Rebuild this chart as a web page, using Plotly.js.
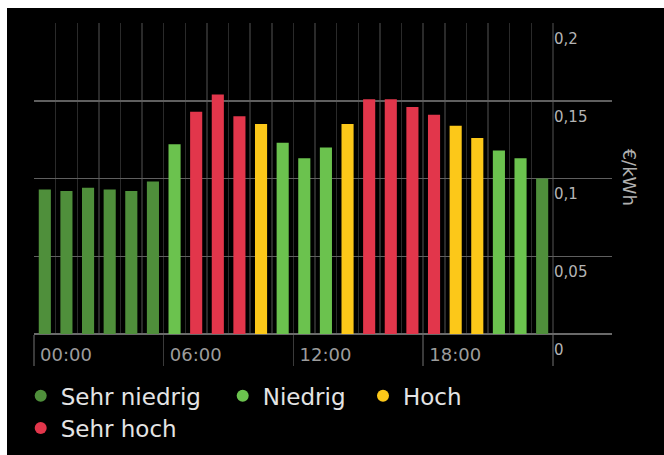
<!DOCTYPE html>
<html>
<head>
<meta charset="utf-8">
<script src="https://cdn.plot.ly/plotly-3.0.1.min.js"></script>
<style>
  html, body { margin: 0; padding: 0; background: #ffffff; width: 664px; height: 455px; overflow: hidden; }
  #chart { position: absolute; left: 7px; top: 8px; width: 657px; height: 447px; background: #000; }
</style>
</head>
<body>
<div id="chart"></div>
<script>
// ---- data ----
const hours = [0,1,2,3,4,5,6,7,8,9,10,11,12,13,14,15,16,17,18,19,20,21,22,23];
const prices = [0.093, 0.092, 0.094, 0.093, 0.092, 0.098, 0.122, 0.143, 0.154, 0.140, 0.135, 0.123,
                0.113, 0.120, 0.135, 0.151, 0.151, 0.146, 0.141, 0.134, 0.126, 0.118, 0.113, 0.100];
const levels = ["Sehr niedrig","Sehr niedrig","Sehr niedrig","Sehr niedrig","Sehr niedrig","Sehr niedrig",
                "Niedrig","Sehr hoch","Sehr hoch","Sehr hoch","Hoch","Niedrig",
                "Niedrig","Niedrig","Hoch","Sehr hoch","Sehr hoch","Sehr hoch",
                "Sehr hoch","Hoch","Hoch","Niedrig","Niedrig","Sehr niedrig"];
const levelNames = ["Sehr niedrig","Niedrig","Hoch","Sehr hoch"];
const levelColors = ["#4f8f3b","#6bc24e","#fcc819","#e2364b"];
const labelHours = [0, 6, 12, 18, 24];
const xTickLabels = ["00:00","06:00","12:00","18:00",""];
const yTicks = [0, 0.05, 0.1, 0.15, 0.2];
const unitTitle = "€/kWh";

// ---- derived ----
const colorOf = {};
levelNames.forEach((n,i)=>colorOf[n]=levelColors[i]);
const barColors = levels.map(l=>colorOf[l]);
const boundaries = hours.map(h=>h-0.5).concat([hours[hours.length-1]+0.5]);
const xRange = [-0.5, 26.23];
const FONT = "DejaVu Sans";

const traces = [{
  type: "bar", x: hours, y: prices,
  marker: { color: barColors, line: { width: 0 } },
  showlegend: false, hoverinfo: "skip"
}];
const legendAxes = [["x2","y"],["x3","y"],["x","y2"],["x","y"]];
levelNames.forEach((n,i)=>{
  traces.push({
    type: "scatter", mode: "markers", x: [null], y: [null], name: n,
    xaxis: legendAxes[i][0], yaxis: legendAxes[i][1],
    marker: { color: levelColors[i], size: 12, symbol: "circle" },
    legend: i === 0 ? "legend" : "legend" + (i+1),
    hoverinfo: "skip"
  });
});

const W = 657, H = 447;
const legendPos = [[13.7, 387.7],[215.7, 387.7],[356, 387.7],[13.7, 420]];
const legendBase = {
  xref: "container", yref: "container", xanchor: "left", yanchor: "middle",
  bgcolor: "rgba(0,0,0,0)", borderwidth: 0, orientation: "h",
  font: { family: FONT, size: 23, color: "#e4e4e4" }
};
const layout = {
  width: W, height: H,
  paper_bgcolor: "#000", plot_bgcolor: "#000",
  margin: { l: 27, r: 52, t: 15, b: 121, pad: 0 },
  separators: ",.",
  bargap: 0.44,
  font: { family: FONT, color: "#aaa" },
  xaxis: {
    range: xRange, autorange: false, fixedrange: true,
    tickvals: boundaries, showticklabels: false, ticks: "",
    showgrid: true, gridcolor: "#2a2a2a", gridwidth: 1.5,
    zeroline: false, showline: false
  },
  xaxis2: {
    overlaying: "x", anchor: "y", range: xRange, autorange: false,
    tickvals: labelHours.map(h=>h-0.5), showticklabels: false,
    ticks: "outside", ticklen: 31, tickwidth: 1.5, tickcolor: "#3a3a3a",
    showgrid: false, zeroline: false, showline: false
  },
  xaxis3: {
    overlaying: "x", anchor: "y", range: xRange, autorange: false,
    tickvals: labelHours.map(h=>h-0.5), ticktext: xTickLabels,
    ticks: "", ticklabelposition: "outside right",
    ticklabelshift: 6, ticklabelstandoff: 8,
    tickfont: { family: FONT, size: 18, color: "#9c9c9c" },
    showgrid: false, zeroline: false, showline: false
  },
  yaxis: {
    range: [0, 0.2], autorange: false, fixedrange: true,
    tickvals: yTicks, showticklabels: false, ticks: "",
    showgrid: true, gridcolor: "#5f5f5f", gridwidth: 1.5,
    zeroline: true, zerolinecolor: "#6a6a6a", zerolinewidth: 2
  },
  yaxis2: {
    overlaying: "y", anchor: "free", position: 0.898, side: "right",
    range: [0, 0.2], autorange: false, tickvals: yTicks,
    ticks: "", ticklabelposition: "outside bottom", ticklabelshift: 5,
    tickfont: { family: FONT, size: 15, color: "#b4b4b4" },
    showgrid: false, zeroline: false, showline: false
  },
  annotations: [{
    text: unitTitle, xref: "paper", yref: "paper", x: 1.031, y: 0.503,
    xanchor: "center", yanchor: "middle", textangle: 90, showarrow: false,
    font: { family: FONT, size: 18, color: "#b0b0b0" }
  }]
};
legendPos.forEach((p,i)=>{
  const key = i === 0 ? "legend" : "legend" + (i+1);
  layout[key] = Object.assign({}, legendBase, { x: p[0]/W, y: 1 - p[1]/H });
});

Plotly.newPlot("chart", traces, layout, { displayModeBar: false, staticPlot: true });
</script>
</body>
</html>
